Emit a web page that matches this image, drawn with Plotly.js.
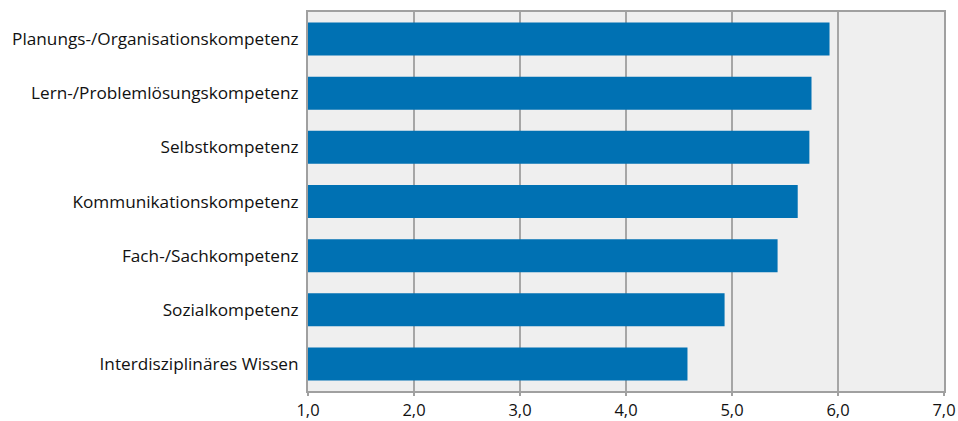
<!DOCTYPE html>
<html>
<head>
<meta charset="utf-8">
<script src="https://cdn.plot.ly/plotly-3.0.1.min.js"></script>
<style>html,body{margin:0;padding:0;background:#fff;}#chart{width:958px;height:421px;}</style>
</head>
<body>
<div id="chart"></div>
<script>
const categories = [
  "Planungs-/Organisationskompetenz",
  "Lern-/Problemlösungskompetenz",
  "Selbstkompetenz",
  "Kommunikationskompetenz",
  "Fach-/Sachkompetenz",
  "Sozialkompetenz",
  "Interdisziplinäres Wissen"
];
const values = [5.92, 5.75, 5.73, 5.62, 5.43, 4.93, 4.58];
const axisMin = 1;
const tickValues = [1, 2, 3, 4, 5, 6, 7];
const tickLabels = ["1,0", "2,0", "3,0", "4,0", "5,0", "6,0", "7,0"];

const trace = {
  type: "bar",
  orientation: "h",
  y: categories,
  x: values.map(v => v - axisMin),
  base: axisMin,
  marker: {color: "#0071b3"},
  hoverinfo: "y"
};

const layout = {
  width: 958, height: 421,
  margin: {l: 308, r: 14, t: 12, b: 30},
  paper_bgcolor: "#ffffff",
  plot_bgcolor: "#efefef",
  bargap: 0.39,
  showlegend: false,
  font: {family: "Open Sans, Noto Sans, sans-serif", color: "#111111"},
  xaxis: {
    range: [1, 7],
    tickvals: tickValues,
    ticktext: tickLabels,
    showgrid: true, gridcolor: "#a6a6a6", gridwidth: 2,
    showline: true, linecolor: "#a0a0a0", linewidth: 2, mirror: true,
    ticks: "outside", ticklen: 3, tickcolor: "#a0a0a0", tickwidth: 2,
    tickfont: {size: 16.5, color: "#111111"},
    zeroline: false, fixedrange: true
  },
  yaxis: {
    autorange: "reversed",
    showgrid: false,
    showline: true, linecolor: "#a0a0a0", linewidth: 2, mirror: true,
    ticks: "outside", ticklen: 4, tickcolor: "rgba(0,0,0,0)",
    tickfont: {size: 17.2, color: "#111111"},
    fixedrange: true
  }
};

Plotly.newPlot("chart", [trace], layout, {displayModeBar: false, staticPlot: true});
</script>
</body>
</html>
